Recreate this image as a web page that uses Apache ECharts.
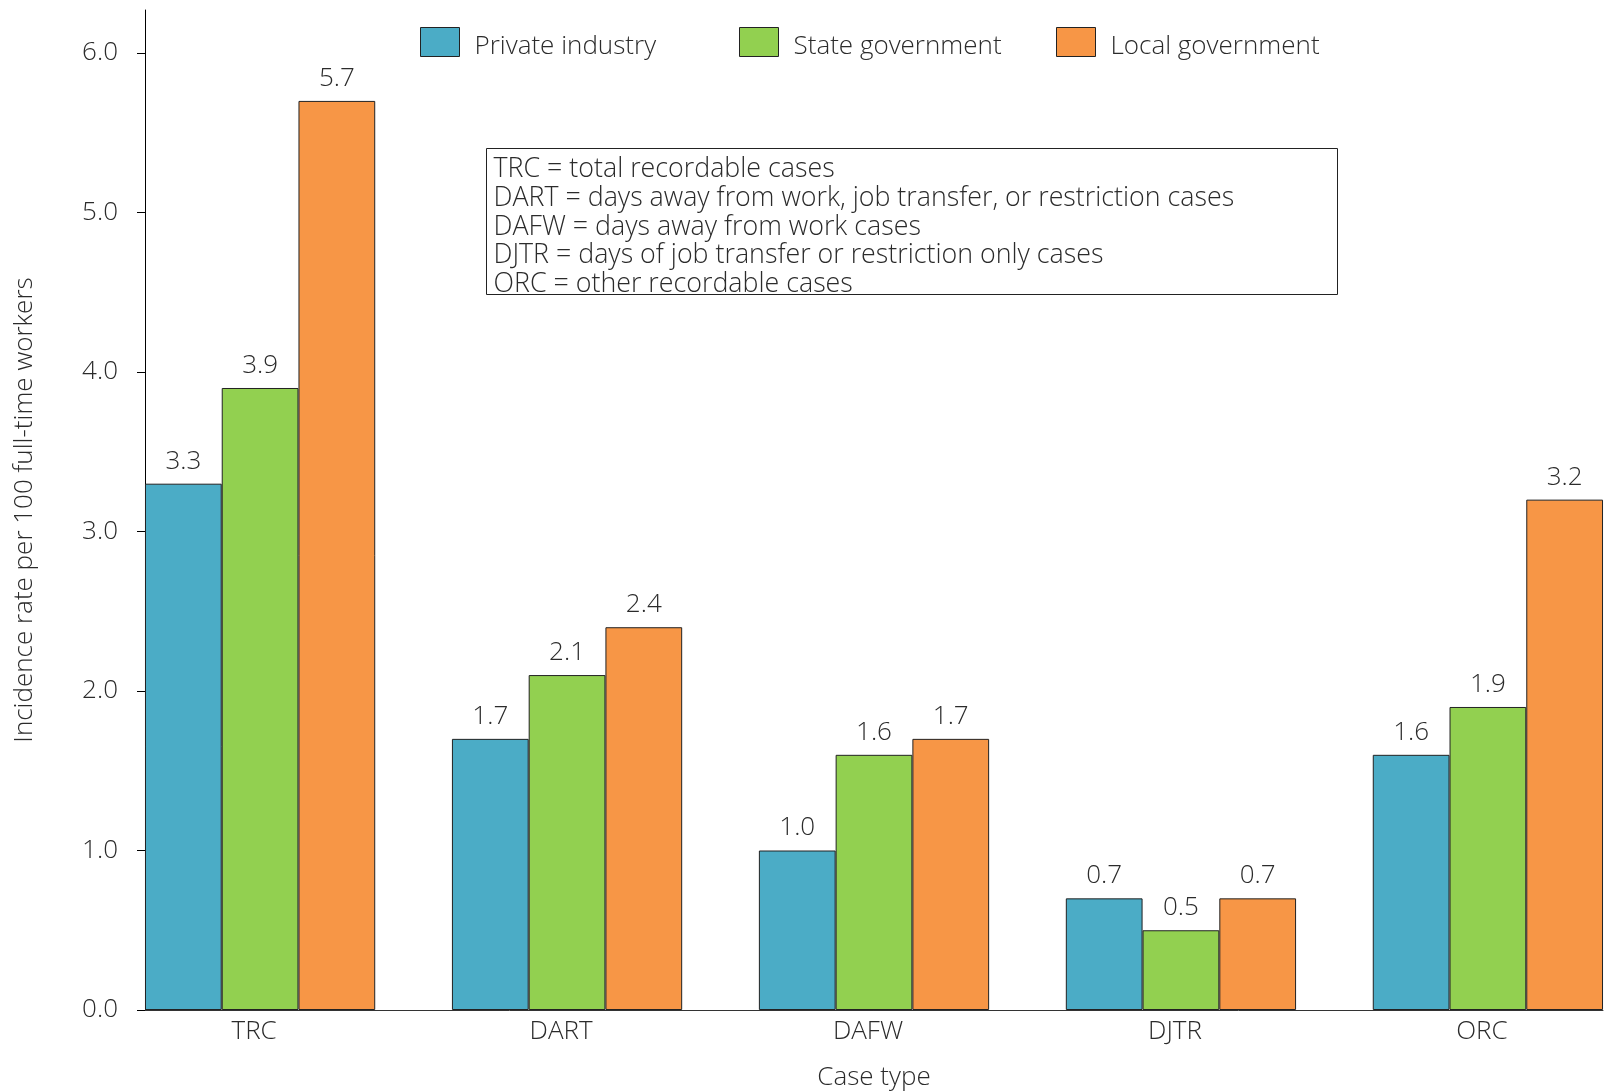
<!DOCTYPE html>
<html>
<head>
<meta charset="utf-8">
<script src="https://cdn.jsdelivr.net/npm/echarts@6/dist/echarts.min.js"></script>
<style>
  html, body { margin: 0; padding: 0; background: #fff; }
  #chart { width: 1604px; height: 1091px; }
</style>
</head>
<body>
<div id="chart"></div>
<script>
// Case types and incidence rates per 100 full-time workers
const categories = ['TRC', 'DART', 'DAFW', 'DJTR', 'ORC'];
const seriesNames = ['Private industry', 'State government', 'Local government'];
const privateIndustry = [3.3, 1.7, 1.0, 0.7, 1.6];
const stateGovernment = [3.9, 2.1, 1.6, 0.5, 1.9];
const localGovernment = [5.7, 2.4, 1.7, 0.7, 3.2];
const yTicks = [0, 1, 2, 3, 4, 5, 6];
const glossary = [
  'TRC = total recordable cases',
  'DART = days away from work, job transfer, or restriction cases',
  'DAFW = days away from work cases',
  'DJTR = days of job transfer or restriction only cases',
  'ORC = other recordable cases'
];

const colors = ['#4BACC6', '#92D050', '#F79646'];
const FONT = '"Open Sans"';
const TEXT = '#2b2b2b';
const FS = 26;

const chart = echarts.init(document.getElementById('chart'), null, { renderer: 'canvas' });

const valueSets = [privateIndustry, stateGovernment, localGovernment];
const series = valueSets.map((vals, s) => ({
  name: seriesNames[s],
  type: 'bar',
  data: vals.map((v, i) => [i, v]),
  barWidth: 76.75,
  barGap: '0%',
  itemStyle: { color: colors[s], borderColor: '#222', borderWidth: 1 },
  label: {
    show: true,
    position: 'top',
    distance: 9.5,
    formatter: p => p.value[1].toFixed(1),
    fontFamily: FONT, fontWeight: 300, fontSize: FS, color: TEXT
  },
  emphasis: { disabled: true }
}));

const legendLefts = [420, 739, 1056];
const legends = seriesNames.map((n, s) => ({
  data: [n],
  left: legendLefts[s],
  top: 27,
  padding: 0,
  icon: 'rect',
  itemWidth: 39,
  itemHeight: 29,
  itemStyle: { borderColor: '#222', borderWidth: 1 },
  formatter: name => '{t|' + name + '}',
  textStyle: {
    fontFamily: FONT, fontWeight: 300, fontSize: FS, color: TEXT,
    rich: { t: { fontFamily: FONT, fontWeight: 300, fontSize: FS, color: TEXT, padding: [10, 0, 0, 10] } }
  },
  selectedMode: false
}));

chart.setOption({
  animation: false,
  backgroundColor: '#fff',
  color: colors,
  legend: legends,
  grid: { left: 145, right: 1, top: 10, bottom: 81, containLabel: false, outerBoundsMode: 'none' },
  xAxis: {
    type: 'value',
    min: -0.375,
    max: 4.375,
    name: 'Case type',
    nameLocation: 'middle',
    nameGap: 55,
    nameTextStyle: { fontFamily: FONT, fontWeight: 300, fontSize: FS, color: TEXT },
    axisLine: { show: true, onZero: false, lineStyle: { color: '#333', width: 1 } },
    axisTick: { show: false },
    splitLine: { show: false },
    axisLabel: {
      customValues: [0, 1, 2, 3, 4],
      formatter: v => categories[Math.round(v)] || '',
      margin: 9,
      padding: [0, 12, 0, 0],
      fontFamily: FONT, fontWeight: 300, fontSize: FS, color: TEXT
    }
  },
  yAxis: {
    type: 'value',
    min: 0,
    max: 6.27,
    interval: 1,
    name: 'Incidence rate per 100 full-time workers',
    nameLocation: 'middle',
    nameGap: 107,
    nameTextStyle: { fontFamily: FONT, fontWeight: 300, fontSize: FS, color: TEXT },
    axisLine: { show: true, onZero: false, lineStyle: { color: '#000', width: 1 } },
    axisTick: { show: true, customValues: yTicks, length: 8, lineStyle: { color: '#000' } },
    splitLine: { show: false },
    axisLabel: {
      customValues: yTicks,
      formatter: v => v.toFixed(1),
      margin: 27,
      fontFamily: FONT, fontWeight: 300, fontSize: FS, color: TEXT
    }
  },
  graphic: [{
    type: 'group',
    left: 486,
    top: 148,
    children: [
      { type: 'rect', shape: { x: 0, y: 0, width: 851, height: 146 },
        style: { fill: '#fff', stroke: '#222', lineWidth: 1 } },
      { type: 'text', x: 7, y: 7,
        style: { text: glossary.join('\n'), font: '300 26.8px ' + FONT, fill: TEXT,
                 lineHeight: 28.6, verticalAlign: 'top', align: 'left' } }
    ]
  }],
  series: series
});
</script>
</body>
</html>
